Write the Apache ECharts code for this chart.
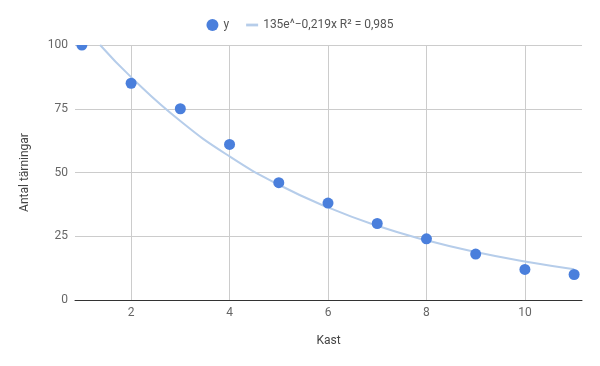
<!DOCTYPE html>
<html>
<head>
<meta charset="utf-8">
<script src="https://cdn.jsdelivr.net/npm/echarts@6/dist/echarts.min.js"></script>
<style>html,body{margin:0;padding:0;background:#fff}#c{width:600px;height:366px}</style>
</head>
<body>
<div id="c"></div>
<script>
// Data
const kast = [1, 2, 3, 4, 5, 6, 7, 8, 9, 10, 11];
const tarningar = [100, 85, 75, 61, 46, 38, 30, 24, 18, 12, 10];
// Trendline as drawn in the picture (135e^-0,219x)
const trendX = [1.37, 2, 3, 4, 5, 6, 7, 8, 9, 10, 11];
const trendY = [100, 87.4, 70.2, 56.3, 45.2, 36.3, 29.1, 23.4, 18.8, 15.1, 12.1];
const xTicks = [2, 4, 6, 8, 10];
const yTicks = [0, 25, 50, 75, 100];
const seriesName = 'y';
const trendName = '135e^\u22120,219x R\u00b2 = 0,985';
const xTitle = 'Kast';
const yTitle = 'Antal tärningar';

const chart = echarts.init(document.getElementById('c'), null, {renderer: 'canvas'});
const font = 'Roboto, Arial, sans-serif';
const dotColor = '#4a7fdc';
chart.setOption({
  animation: false,
  textStyle: {fontFamily: font},
  legend: {
    top: 14,
    left: 'center',
    itemWidth: 12,
    itemHeight: 12,
    itemGap: 17,
    textStyle: {color: '#555', fontSize: 12, fontFamily: font},
    data: [
      {name: seriesName, icon: 'circle', itemStyle: {color: dotColor}},
      {name: trendName, icon: 'path://M0,0 H13 V3 H0 Z'}
    ]
  },
  grid: {left: 75, right: 18, top: 45, bottom: 66},
  xAxis: {
    type: 'value',
    min: 0.86,
    max: 11.16,
    name: xTitle,
    nameLocation: 'middle',
    nameGap: 35,
    nameTextStyle: {color: '#444', fontSize: 12, fontFamily: font},
    axisLine: {show: true, onZero: false, lineStyle: {color: '#333', width: 1}},
    axisTick: {show: false, customValues: xTicks},
    axisLabel: {customValues: xTicks, color: '#666', fontSize: 12, margin: 7, fontFamily: font},
    splitLine: {show: true, lineStyle: {color: '#ccc', width: 1}}
  },
  yAxis: {
    type: 'value',
    min: 0,
    max: 100,
    interval: 25,
    name: yTitle,
    nameLocation: 'middle',
    nameGap: 44,
    nameTextStyle: {color: '#444', fontSize: 12, fontFamily: font},
    axisLine: {show: false},
    axisTick: {show: false},
    axisLabel: {color: '#666', fontSize: 12, margin: 7, fontFamily: font},
    splitLine: {show: true, lineStyle: {color: '#ccc', width: 1}}
  },
  series: [
    {
      name: trendName,
      type: 'line',
      data: trendX.map((x, i) => [x, trendY[i]]),
      smooth: true,
      showSymbol: false,
      symbol: 'none',
      clip: true,
      lineStyle: {color: '#b6cdea', width: 2},
      itemStyle: {color: '#b6cdea'},
      z: 1
    },
    {
      name: seriesName,
      type: 'custom',
      coordinateSystem: 'cartesian2d',
      clip: true,
      data: kast.map((x, i) => [x, tarningar[i]]),
      encode: {x: 0, y: 1},
      itemStyle: {color: dotColor},
      renderItem: function (params, api) {
        const p = api.coord([api.value(0), api.value(1)]);
        return {
          type: 'circle',
          shape: {cx: p[0], cy: p[1], r: 5.5},
          style: {fill: dotColor}
        };
      },
      z: 2
    }
  ]
});
</script>
</body>
</html>
